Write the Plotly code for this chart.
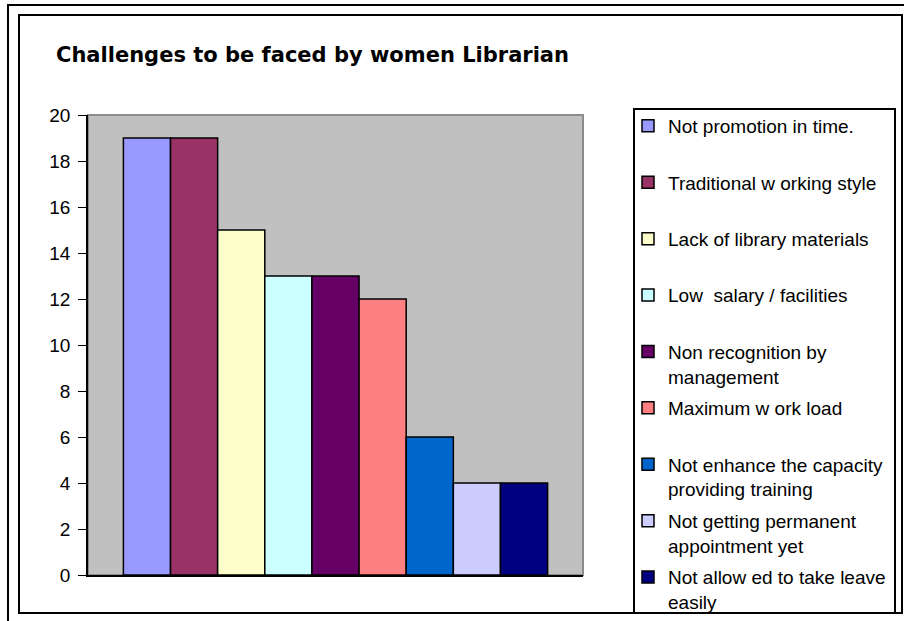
import plotly.graph_objects as go

# survey responses: challenges faced by women librarians
challenges = [
    "Not promotion in time.",
    "Traditional w orking style",
    "Lack of library materials",
    "Low  salary / facilities",
    "Non recognition by<br>management",
    "Maximum w ork load",
    "Not enhance the capacity<br>providing training",
    "Not getting permanent<br>appointment yet",
    "Not allow ed to take leave<br>easily",
]
counts = [19, 19, 15, 13, 13, 12, 6, 4, 4]
colors = ["#9999FF", "#993366", "#FFFFCC", "#CCFFFF", "#660066",
          "#FF8080", "#0066CC", "#CCCCFF", "#000080"]
y_ticks = [0, 2, 4, 6, 8, 10, 12, 14, 16, 18, 20]

W, H = 904, 621
L, R, T, B = 88, 583, 115, 575  # plot area in pixels


def px(x):
    return (x - L) / (R - L)


def py(y):
    return (B - y) / (B - T)


fig = go.Figure()

for i, (name, val) in enumerate(zip(challenges, counts)):
    # pad single-line names so every legend entry has the same height
    label = name if "<br>" in name else name + "<br> "
    fig.add_trace(go.Bar(
        x=["Challenges"], y=[val], name=label,
        marker=dict(color=colors[i], line=dict(color="black", width=1.5)),
        legendgroup=str(i),
        hoverinfo="y+name",
    ))

shapes = [
    # outer and inner frames
    dict(type="rect", x0=px(8), x1=px(912), y0=py(5), y1=py(630),
         line=dict(color="black", width=2)),
    dict(type="rect", x0=px(19), x1=px(902), y0=py(15), y1=py(613),
         line=dict(color="black", width=2)),
    # legend box
    dict(type="rect", x0=px(634), x1=px(895), y0=py(109), y1=py(613),
         line=dict(color="black", width=2)),
    # plot area border
    dict(type="rect", x0=0, x1=1, y0=0, y1=1, layer="below",
         line=dict(color="#8C8C8C", width=2)),
]
for s in shapes:
    s.setdefault("xref", "paper")
    s.setdefault("yref", "paper")

fig.update_layout(
    width=W, height=H,
    margin=dict(l=L, r=W - R, t=T, b=H - B),
    paper_bgcolor="white",
    plot_bgcolor="#C0C0C0",
    barmode="group",
    bargap=0.143,
    bargroupgap=0,
    title=dict(
        text="<b>Challenges to be faced by women Librarian</b>",
        x=56 / W, xanchor="left", xref="container",
        y=1 - 55 / H, yanchor="middle", yref="container",
        font=dict(family="DejaVu Sans", size=21, color="black"),
    ),
    font=dict(family="Liberation Sans, Arial", size=19, color="black"),
    xaxis=dict(showticklabels=False, ticks="", showline=True,
               linecolor="black", linewidth=1.5, showgrid=False),
    yaxis=dict(range=[0, 20], tickvals=y_ticks, ticks="outside", ticklen=8,
               tickcolor="black", showline=True, linecolor="black",
               linewidth=1.5, showgrid=False, zeroline=False,
               ticklabelstandoff=4),
    legend=dict(x=px(628), xanchor="left", y=py(107), yanchor="top",
                valign="top", tracegroupgap=4, borderwidth=0,
                maxheight=1, bgcolor="rgba(0,0,0,0)", font=dict(size=19)),
    shapes=shapes,
    showlegend=True,
)

fig.write_html("out.html", config={"displayModeBar": False},
               post_script="document.body.style.margin='0';")
